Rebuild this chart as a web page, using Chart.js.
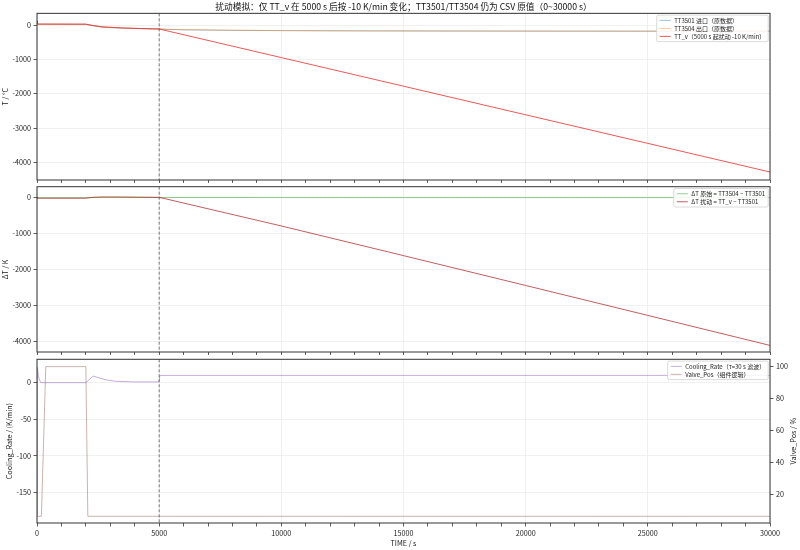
<!DOCTYPE html>
<html>
<head>
<meta charset="utf-8">
<script src="https://cdn.jsdelivr.net/npm/chart.js@4.4.1/dist/chart.umd.min.js"></script>
<style>
body { margin: 0; background: #fff; width: 800px; height: 550px; position: relative; overflow: hidden; }
canvas { position: absolute; left: 0; }
</style>
</head>
<body>
<canvas id="c1" width="800" height="183" style="top:0px"></canvas>
<canvas id="c2" width="800" height="172" style="top:183px"></canvas>
<canvas id="c3" width="800" height="195" style="top:355px"></canvas>
<script>
// ---- data ----
const disturbStart = 5000;

const timeTop = [0, 20, 200, 2000, 2300, 2700, 3500, 4200, 5000, 6000, 8000, 10000, 13000, 17000, 22000, 26000, 30000];
const tt3501 = [110, 25, 25, 22, -25, -65, -92, -105, -118, -140, -155, -163, -170, -175, -178, -180, -180];
const tt3504 = [90, 25, 25, 22, -15, -55, -85, -100, -115, -135, -150, -160, -168, -173, -176, -178, -178];

const timeV = [0, 20, 200, 2000, 2300, 2700, 3500, 4200, 5000, 10000, 15000, 20000, 25000, 30000];
const ttV = [120, 28, 28, 25, -15, -55, -85, -100, -115, -948, -1782, -2615, -3448, -4282];

const dTraw = [-20, 0, 0, 0, 10, 10, 7, 5, 3, 5, 5, 3, 2, 2, 2, 2, 2];
const dTdist = [10, -15, -15, -15, 10, 20, 20, 15, 10, -785, -1609, -2438, -3269, -4102];

const coolTime = [0, 15, 60, 150, 2000, 2100, 2300, 2500, 2800, 3200, 4000, 4990, 5030, 30000];
const coolRate = [-182, 21, 8, 0, 0, 3, 9, 7, 4, 2, 1, 1, 10, 10];
const valveTime = [0, 180, 360, 2000, 2080, 30000];
const valvePos = [6, 6, 100, 100, 6, 6];

// tick labels
const tempTicks = [-4000, -3000, -2000, -1000, 0];
const dTTicks = [-4000, -3000, -2000, -1000, 0];
const rateTicks = [-150, -100, -50, 0];
const valveTicks = [20, 40, 60, 80, 100];
const xTickMajor = 5000;

const FONT = '"Noto Sans CJK SC", "Noto Sans", sans-serif';
Chart.defaults.font.family = FONT;
Chart.defaults.color = '#222';

function pts(xs, ys) {
    return xs.map((x, i) => ({ x: x, y: ys[i] }));
}

function line(label, xs, ys, color, extra) {
    return Object.assign({
        label: label,
        data: pts(xs, ys),
        borderColor: color,
        borderWidth: 1,
        pointRadius: 0,
        tension: 0,
        fill: false
    }, extra || {});
}

// dashed marker, frame, in-axes legend, right axis title
const mplPlugin = {
    id: 'mpl',
    afterDraw(chart, args, opts) {
        const { ctx, chartArea: a, scales } = chart;
        ctx.save();
        const xp = scales.x.getPixelForValue(disturbStart);
        ctx.strokeStyle = '#555';
        ctx.lineWidth = 0.8;
        ctx.setLineDash([3, 2]);
        ctx.beginPath();
        ctx.moveTo(xp, a.top);
        ctx.lineTo(xp, a.bottom);
        ctx.stroke();
        ctx.setLineDash([]);

        ctx.strokeStyle = '#333';
        ctx.lineWidth = 1;
        ctx.strokeRect(a.left, a.top, a.width, a.height);

        // legend
        const items = chart.data.datasets.map(d => ({ label: d.label, color: d.borderColor }));
        ctx.font = '6px ' + FONT;
        let maxW = 0;
        items.forEach(it => { maxW = Math.max(maxW, ctx.measureText(it.label).width); });
        const rowH = 8, pad = 3, lineLen = 11, gap = 3.5;
        const w = pad + lineLen + gap + maxW + pad;
        const h = items.length * rowH + 2.5;
        const right = a.right - 1.8, top = a.top + 1.8;
        const left = right - w;
        ctx.fillStyle = 'rgba(255,255,255,0.85)';
        ctx.strokeStyle = '#d0d0d0';
        ctx.lineWidth = 0.8;
        ctx.beginPath();
        ctx.roundRect(left, top, w, h, 1.5);
        ctx.fill();
        ctx.stroke();
        ctx.textBaseline = 'middle';
        ctx.textAlign = 'left';
        items.forEach((it, i) => {
            const y = top + 1.25 + rowH / 2 + i * rowH;
            ctx.strokeStyle = it.color;
            ctx.lineWidth = 1;
            ctx.beginPath();
            ctx.moveTo(left + pad, y);
            ctx.lineTo(left + pad + lineLen, y);
            ctx.stroke();
            ctx.fillStyle = '#222';
            ctx.fillText(it.label, left + pad + lineLen + gap, y);
        });

        if (opts.rightTitle) {
            ctx.font = '7.2px ' + FONT;
            ctx.fillStyle = '#222';
            ctx.textAlign = 'center';
            ctx.translate(793, (a.top + a.bottom) / 2);
            ctx.rotate(-Math.PI / 2);
            ctx.fillText(opts.rightTitle, 0, 0);
        }
        ctx.restore();
    }
};

function noPad(s) {
    s.paddingTop = 0;
    s.paddingBottom = 0;
    s.paddingLeft = 0;
    s.paddingRight = 0;
}

function xScale(showLabels) {
    return {
        type: 'linear',
        min: 0,
        max: 30000,
        border: { display: false },
        grid: {
            color: c => (c.tick && c.tick.value % xTickMajor === 0) ? '#ececec' : 'rgba(0,0,0,0)',
            tickColor: '#333',
            tickLength: 3.5,
            lineWidth: 0.8
        },
        ticks: {
            display: showLabels,
            stepSize: 1000,
            autoSkip: false,
            maxRotation: 0,
            padding: 2.5,
            font: { size: 7.2 },
            callback: v => (v % xTickMajor === 0 ? String(v) : '')
        },
        title: showLabels ? {
            display: true, text: 'TIME / s', font: { size: 7.2 }, padding: { top: 0, bottom: 2.2 }
        } : { display: false },
        afterFit: s => { s.height = showLabels ? 27 : 3; noPad(s); }
    };
}

function yScale(title, min, max, tickVals, titlePad, position, showGrid) {
    return {
        type: 'linear',
        position: position,
        min: min,
        max: max,
        border: { display: false },
        grid: { color: '#ececec', drawOnChartArea: showGrid, tickColor: '#333', tickLength: 3.5, lineWidth: 0.8 },
        ticks: {
            padding: 2.5,
            font: { size: 7.2 },
            callback: v => String(v)
        },
        afterBuildTicks: s => { s.ticks = tickVals.map(v => ({ value: v })); },
        title: title ? { display: true, text: title, font: { size: 7.2 }, padding: { top: titlePad, bottom: 0 } } : { display: false },
        afterFit: s => { s.width = position === 'left' ? 37 : 30; noPad(s); }
    };
}

const common = {
    responsive: false,
    animation: false,
    events: []
};

// ---- panel 1: temperatures ----
new Chart(document.getElementById('c1'), {
    type: 'line',
    data: {
        datasets: [
            line('TT3501 进口（原数据）', timeTop, tt3501, 'rgba(31,119,180,0.45)', { order: 3 }),
            line('TT3504 出口（原数据）', timeTop, tt3504, 'rgba(255,127,14,0.45)', { order: 2 }),
            line('TT_v（5000 s 起扰动 -10 K/min）', timeV, ttV, 'rgba(235,45,45,0.8)', { order: 1 })
        ]
    },
    options: Object.assign({}, common, {
        layout: { padding: { left: 0, right: 30, top: 0, bottom: 0 } },
        plugins: {
            legend: { display: false },
            tooltip: { enabled: false },
            title: {
                display: true,
                fullSize: false,
                text: '扰动模拟：仅 TT_v 在 5000 s 后按 -10 K/min 变化；TT3501/TT3504 仍为 CSV 原值（0~30000 s）',
                font: { size: 8.7, weight: 'normal' },
                color: '#111',
                padding: { top: 1.5, bottom: 1.4 }
            },
            mpl: {}
        },
        scales: {
            x: xScale(false),
            y: yScale('T / °C', -4515, 341, tempTicks, 1.2, 'left', true)
        }
    }),
    plugins: [mplPlugin]
});

// ---- panel 2: temperature differences ----
new Chart(document.getElementById('c2'), {
    type: 'line',
    data: {
        datasets: [
            line('ΔT 原始 = TT3504 − TT3501', timeTop, dTraw, 'rgba(44,160,44,0.5)', { order: 2 }),
            line('ΔT 扰动 = TT_v − TT3501', timeV, dTdist, 'rgba(175,40,40,0.75)', { order: 1 })
        ]
    },
    options: Object.assign({}, common, {
        layout: { padding: { left: 0, right: 30, top: 3.7, bottom: 0 } },
        plugins: { legend: { display: false }, tooltip: { enabled: false }, mpl: {} },
        scales: {
            x: xScale(false),
            y: yScale('ΔT / K', -4285, 305, dTTicks, 1.2, 'left', true)
        }
    }),
    plugins: [mplPlugin]
});

// ---- panel 3: cooling rate and valve ----
new Chart(document.getElementById('c3'), {
    type: 'line',
    data: {
        datasets: [
            line('Cooling_Rate（τ=30 s 滤波）', coolTime, coolRate, 'rgba(148,103,189,0.55)', { yAxisID: 'y', order: 2 }),
            line('Valve_Pos（组件逻辑）', valveTime, valvePos, 'rgba(140,86,75,0.45)', { yAxisID: 'y1', order: 1 })
        ]
    },
    options: Object.assign({}, common, {
        layout: { padding: { left: 0, right: 0, top: 4.3, bottom: 0 } },
        plugins: { legend: { display: false }, tooltip: { enabled: false }, mpl: { rightTitle: 'Valve_Pos / %' } },
        scales: {
            x: xScale(true),
            y: yScale('Cooling_Rate / (K/min)', -192, 32, rateTicks, 5, 'left', true),
            y1: yScale(null, 1.8, 104.6, valveTicks, 0, 'right', false)
        }
    }),
    plugins: [mplPlugin]
});
</script>
</body>
</html>
